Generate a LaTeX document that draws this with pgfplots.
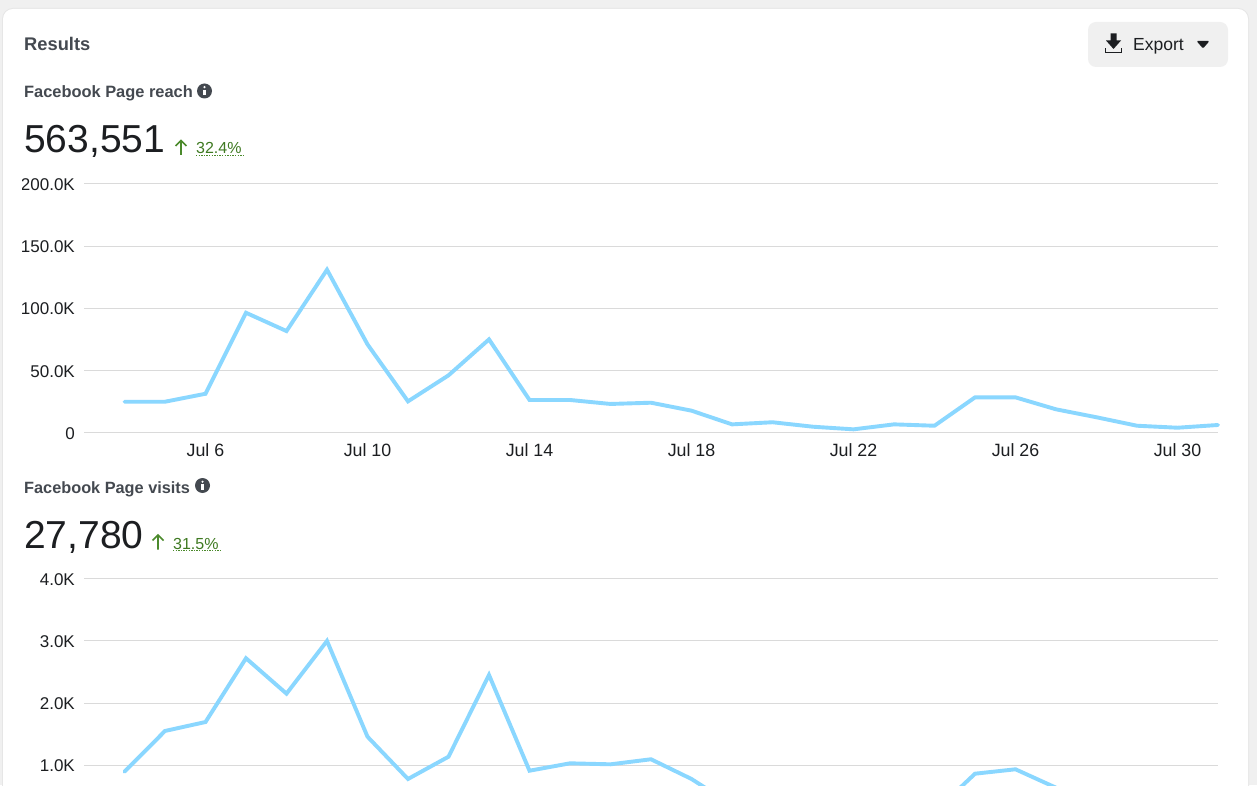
\documentclass[border=0pt]{standalone}
\usepackage{pgfplots}
\pgfplotsset{compat=1.18}
\usepackage{fontspec}
\setmainfont{Liberation Sans}
\definecolor{pagebg}{HTML}{F0F0F0}
\definecolor{cardedge}{HTML}{E6E6E6}
\definecolor{gridc}{HTML}{DADADA}
\definecolor{linec}{HTML}{8AD7FF}
\definecolor{headc}{HTML}{444950}
\definecolor{inkc}{HTML}{1C1E21}
\definecolor{greenc}{HTML}{4B8A2C}
\definecolor{greent}{HTML}{3F7A22}
\newcommand\fs[1]{\fontsize{#1}{#1}\selectfont}
\pgfplotstableread{
day reach
4 24900
5 24900
6 31300
7 96400
8 81700
9 131000
10 71000
11 25200
12 46100
13 75000
14 26300
15 26300
16 23100
17 24100
18 17700
19 6700
20 8400
21 4800
22 2700
23 6700
24 5600
25 28400
26 28400
27 18800
28 12400
29 5600
30 4000
31 6200
}\reachdata
\pgfplotstableread{
day visits
4 897
5 1552
6 1696
7 2721
8 2152
9 2999
10 1460
11 780
12 1138
13 2452
14 913
15 1032
16 1016
17 1097
18 780
19 362
20 350
21 250
22 150
23 250
24 250
25 865
26 936
27 640
28 300
29 200
30 150
31 200
}\visitsdata
\pgfplotsset{
  panel/.style={
    scale only axis,
    width=1134pt,
    height=248.8pt,
    anchor=south west,
    xmin=3, xmax=31,
    axis line style={draw=none},
    major tick length=0pt,
    ymajorgrids,
    scaled y ticks=false,
    major grid style={draw=gridc,line width=1pt},
    yticklabel style={font=\fs{17},text=inkc,inner sep=0pt,xshift=-9pt,yshift=-0.8pt},
    xticklabel style={font=\fs{17.8},text=inkc,inner sep=0pt,yshift=-11pt},
    clip=false,
  },
  series/.style={draw=linec,line width=3.9pt,line cap=round,miter limit=10,no marks},
}
\begin{document}
\begin{tikzpicture}
\fill[pagebg] (0pt,0pt) rectangle (1257pt,785pt);
\begin{scope}
\clip (0pt,0pt) rectangle (1257pt,785pt);
\fill[cardedge,rounded corners=11pt] (2pt,-30pt) rectangle (1249pt,777pt);
\fill[white,rounded corners=10pt] (3pt,-30pt) rectangle (1248pt,776pt);
\end{scope}
\begin{scope}
\clip (22.5pt,0pt) rectangle (1257pt,785pt);
\begin{axis}[panel,at={(84pt,352.3pt)},
  ymin=0,ymax=200000,
  xtick={6,10,14,18,22,26,30},
  xticklabels={Jul 6,Jul 10,Jul 14,Jul 18,Jul 22,Jul 26,Jul 30},
  ytick={0,50000,100000,150000,200000},
  yticklabels={0,50.0K,100.0K,150.0K,200.0K}]
\addplot[series] table[x=day,y=reach] {\reachdata};
\end{axis}
% bottom of this panel runs off the page, so no x labels and no 0 label
\begin{axis}[panel,at={(84pt,-42.5pt)},
  ymin=0,ymax=4000,
  xtick=\empty,
  ytick={1000,2000,3000,4000},
  yticklabels={1.0K,2.0K,3.0K,4.0K}]
\addplot[series] table[x=day,y=visits] {\visitsdata};
\end{axis}
\end{scope}
\begin{scope}[x=1pt,y=-1pt,shift={(0pt,785pt)},every node/.style={inner sep=0pt,anchor=base west}]
\node[text=headc] at (24,51) {\fs{18.3}\bfseries Results};
\node[text=headc] at (24,98) {\fs{16.4}\bfseries Facebook Page reach};
\node[text=inkc] at (24,153) {\fs{39}563,551};
\node[text=greent] at (196,154) {\fs{16}32.4\%};
\draw[greenc,line width=1.3pt,dash pattern=on 1.3pt off 1.3pt] (196,155.5) -- (243,155.5);
\draw[greenc,line width=1.6pt] (181,155) -- (181,140.5) (175.5,146) -- (181,140.5) -- (186.5,146);
\fill[headc] (204.5,91) circle (7.5);
\fill[white] (204.5,87.2) circle (1.2);
\fill[white] (203.4,89.8) rectangle (205.6,95.5);
\node[text=headc] at (24,493) {\fs{16.3}\bfseries Facebook Page visits};
\node[text=inkc] at (24,548) {\fs{39}27,780};
\node[text=greent] at (173,549) {\fs{16}31.5\%};
\draw[greenc,line width=1.3pt,dash pattern=on 1.3pt off 1.3pt] (173,550.5) -- (220,550.5);
\draw[greenc,line width=1.6pt] (158,549.5) -- (158,535) (152.5,540.5) -- (158,535) -- (163.5,540.5);
\fill[headc] (202.5,485.5) circle (7.5);
\fill[white] (202.5,481.7) circle (1.2);
\fill[white] (201.4,484.3) rectangle (203.6,490);
\fill[pagebg,rounded corners=8pt] (1088,22) rectangle (1228,67);
\node[text=inkc] at (1133,51) {\fs{17.5}Export};
\fill[inkc] (1110.5,33.5) -- (1116.5,33.5) -- (1116.5,40.5) -- (1121,40.5) -- (1113.5,49) -- (1106,40.5) -- (1110.5,40.5) -- cycle;
\draw[inkc,line width=1.8pt] (1105.5,48.5) -- (1105.5,52.5) -- (1121.5,52.5) -- (1121.5,48.5);
\fill[inkc,rounded corners=1.2pt] (1196.5,41) -- (1209.5,41) -- (1203,48.5) -- cycle;
\end{scope}
\pgfresetboundingbox
\useasboundingbox (0pt,0pt) rectangle (1257pt,785pt);
\end{tikzpicture}
\end{document}
